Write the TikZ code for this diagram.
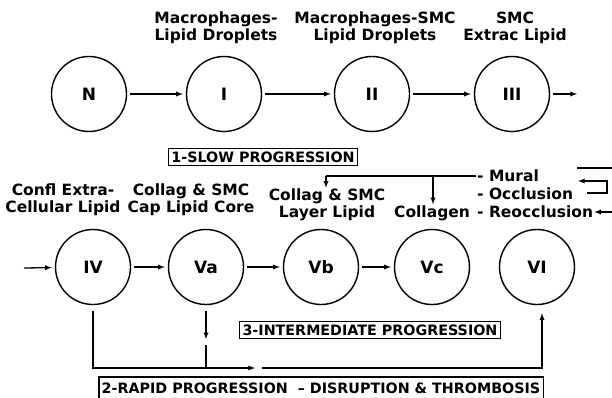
\documentclass[tikz,border=0pt]{standalone}
\usepackage{fontspec}
\setmainfont{DejaVu Sans}
\usetikzlibrary{arrows}

\begin{document}
\begin{tikzpicture}[x=1pt,y=-1pt,
    stage/.style={draw, circle, line width=1.4pt, minimum size=75pt, inner sep=0pt,
      font=\fontsize{17}{19}\selectfont\bfseries},
    lbl/.style={align=center, inner sep=1pt, font=\fontsize{15.5}{17}\selectfont\bfseries},
    prog/.style={draw, line width=1.6pt, inner sep=3pt, font=\fontsize{14.3}{16}\selectfont\bfseries},
    conn/.style={line width=1.3pt},
    >=latex]
  \useasboundingbox (0,0) rectangle (612,398);
  % stages
  \node[stage] (N) at (89,94) {N};
  \node[stage] (I) at (224,94) {I};
  \node[stage] (II) at (372,94) {II};
  \node[stage] (III) at (512,94) {III};
  \node[stage] (IV) at (93,267) {IV};
  \node[stage] (Va) at (206,267) {Va};
  \node[stage] (Vb) at (321,267) {Vb};
  \node[stage] (Vc) at (432,267) {Vc};
  \node[stage] (VI) at (537,267) {VI};
  % labels
  \node[lbl] (lI) at (216,28) {Macrophages-\\Lipid Droplets};
  \node[lbl] (lII) at (375,28) {Macrophages-SMC\\Lipid Droplets};
  \node[lbl] (lIII) at (515,28) {SMC\\Extrac Lipid};
  \node[lbl] (lIV) at (63,200) {Confl Extra-\\Cellular Lipid};
  \node[lbl] (lVa) at (191,200) {Collag \& SMC\\Cap Lipid Core};
  \node[lbl] (lVb) at (327,205) {Collag \& SMC\\Layer Lipid};
  \node[lbl] (lVc) at (432,213) {Collagen};
  \node[lbl, anchor=west] (mural) at (476,176) {- Mural};
  \node[lbl, anchor=west] (occl) at (476,194) {- Occlusion};
  \node[lbl, anchor=west] (reoc) at (476,212) {- Reocclusion};
  % progression boxes
  \node[prog] (slow) at (263,157) {1-SLOW PROGRESSION};
  \node[prog] (inter) at (370,330) {3-INTERMEDIATE PROGRESSION};
  \node[prog, minimum height=22pt] (rapid) at (321,388) {2-RAPID PROGRESSION \ -- DISRUPTION \& THROMBOSIS};
  % free ends
  \coordinate (out) at (577,94);
  \coordinate (in) at (24,268);
  \coordinate (mb) at (326,176);
  \coordinate (mc) at (433,176);
  \coordinate (rl) at (255,368);
  \coordinate (rr) at (262,368);
  \coordinate (b1) at (577,168);
  \coordinate (b2) at (614,168);
  \coordinate (lp1) at (587,193);
  \coordinate (lp2) at (607,193);
  \coordinate (lp3) at (607,181);
  \coordinate (lp4) at (578,181);
  \coordinate (rin) at (614,212);
  % slow
  \draw[conn,->,shorten >=3pt,shorten <=3pt] (N) -- (I);
  \draw[conn,->,shorten >=3pt,shorten <=3pt] (I) -- (II);
  \draw[conn,->,shorten >=3pt,shorten <=3pt] (II) -- (III);
  \draw[conn,->,shorten <=3pt] (III) -- (out);
  \draw[conn,->,shorten >=3pt] (in) -- (IV);
  \draw[conn,->,shorten >=3pt,shorten <=3pt] (IV) -- (Va);
  \draw[conn,->,shorten >=3pt,shorten <=3pt] (Va) -- (Vb);
  \draw[conn,->,shorten >=3pt,shorten <=3pt] (Vb) -- (Vc);
  % complications
  \draw[conn] (mural.west) -- (mb);
  \draw[conn,->] (mb) -- (lVb.north -| mb);
  \draw[conn,->] (mc) -- (lVc.north -| mc);
  \draw[conn] (b1) -- (b2);
  \draw[conn,->] (lp1) -- (lp2) -- (lp3) -- (lp4);
  \draw[conn,->] (rin) -- (reoc.east);
  % rapid
  \draw[conn,->,shorten <=6pt] (IV.south) |- (rl);
  \draw[conn,->,shorten <=6pt] (Va.south) -- (Va.south |- inter.south);
  \draw[conn,shorten <=6pt] (Va.south |- inter.south) -- (Va.south |- rl);
  \draw[conn,->,shorten >=8pt] (rr) -| ([xshift=5pt]VI.south);
\end{tikzpicture}
\end{document}
